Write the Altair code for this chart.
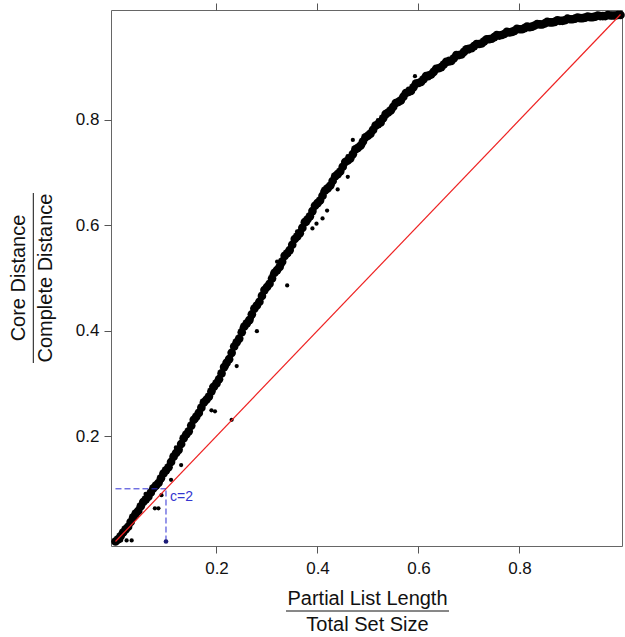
import altair as alt
import pandas as pd

FONT = "Liberation Sans"

# ---- data ----
band_x = [0.00, 0.01, 0.02, 0.03, 0.04, 0.05, 0.06, 0.07, 0.08, 0.09,
          0.10, 0.11, 0.12, 0.13, 0.14, 0.15, 0.16, 0.17, 0.18, 0.19,
          0.20, 0.21, 0.22, 0.23, 0.24, 0.25, 0.26, 0.27, 0.28, 0.29,
          0.30, 0.31, 0.32, 0.33, 0.34, 0.35, 0.36, 0.37, 0.38, 0.39,
          0.40, 0.41, 0.42, 0.43, 0.44, 0.45, 0.46, 0.47, 0.48, 0.49,
          0.50, 0.51, 0.52, 0.53, 0.54, 0.55, 0.56, 0.57, 0.58, 0.59,
          0.60, 0.61, 0.62, 0.63, 0.64, 0.65, 0.66, 0.67, 0.68, 0.69,
          0.70, 0.71, 0.72, 0.73, 0.74, 0.75, 0.76, 0.77, 0.78, 0.79,
          0.80, 0.81, 0.82, 0.83, 0.84, 0.85, 0.86, 0.87, 0.88, 0.89,
          0.90, 0.91, 0.92, 0.93, 0.94, 0.95, 0.96, 0.97, 0.98, 0.99,
          1.00]
band_y = [0.000, 0.010, 0.023, 0.037, 0.053, 0.067, 0.080, 0.093, 0.106, 0.120,
          0.135, 0.151, 0.168, 0.185, 0.203, 0.220, 0.237, 0.254, 0.269, 0.285,
          0.300, 0.319, 0.339, 0.358, 0.378, 0.397, 0.414, 0.431, 0.448, 0.466,
          0.483, 0.499, 0.515, 0.531, 0.547, 0.563, 0.579, 0.595, 0.611, 0.627,
          0.642, 0.656, 0.670, 0.684, 0.697, 0.711, 0.723, 0.735, 0.747, 0.759,
          0.770, 0.781, 0.792, 0.803, 0.814, 0.825, 0.834, 0.844, 0.853, 0.862,
          0.870, 0.877, 0.884, 0.891, 0.898, 0.905, 0.911, 0.917, 0.923, 0.929,
          0.935, 0.940, 0.944, 0.949, 0.953, 0.957, 0.960, 0.963, 0.966, 0.969,
          0.972, 0.974, 0.976, 0.979, 0.981, 0.983, 0.985, 0.986, 0.988, 0.989,
          0.991, 0.992, 0.993, 0.994, 0.995, 0.996, 0.997, 0.997, 0.998, 0.998,
          0.999]

fill_x = [0.005, 0.015, 0.025, 0.035, 0.045, 0.055, 0.065, 0.075, 0.085, 0.095,
          0.105, 0.115, 0.125, 0.135, 0.145, 0.155, 0.165, 0.175, 0.185, 0.195,
          0.205, 0.215, 0.225, 0.235, 0.245, 0.255, 0.265, 0.275, 0.285, 0.295,
          0.305, 0.315, 0.325, 0.335, 0.345, 0.355, 0.365, 0.375, 0.385, 0.395,
          0.405, 0.415, 0.425, 0.435, 0.445, 0.455, 0.465, 0.475, 0.485, 0.495,
          0.505, 0.515, 0.525, 0.535, 0.545, 0.555, 0.565, 0.575, 0.585, 0.595,
          0.605, 0.615, 0.625, 0.635, 0.645, 0.655, 0.665, 0.675, 0.685, 0.695,
          0.705, 0.715, 0.725, 0.735, 0.745, 0.755, 0.765, 0.775, 0.785, 0.795,
          0.805, 0.815, 0.825, 0.835, 0.845, 0.855, 0.865, 0.875, 0.885, 0.895,
          0.905, 0.915, 0.925, 0.935, 0.945, 0.955, 0.965, 0.975, 0.985, 0.995]
fill_y = [0.004, 0.017, 0.028, 0.046, 0.058, 0.075, 0.085, 0.101, 0.111, 0.129,
          0.141, 0.161, 0.174, 0.196, 0.209, 0.231, 0.244, 0.264, 0.275, 0.294,
          0.308, 0.331, 0.346, 0.370, 0.385, 0.408, 0.420, 0.442, 0.455, 0.477,
          0.489, 0.510, 0.521, 0.542, 0.553, 0.574, 0.585, 0.606, 0.617, 0.637,
          0.647, 0.666, 0.675, 0.693, 0.702, 0.720, 0.727, 0.744, 0.751, 0.767,
          0.774, 0.789, 0.795, 0.811, 0.818, 0.832, 0.837, 0.851, 0.855, 0.869,
          0.872, 0.883, 0.886, 0.897, 0.900, 0.910, 0.912, 0.923, 0.924, 0.934,
          0.936, 0.944, 0.945, 0.953, 0.954, 0.961, 0.961, 0.967, 0.967, 0.973,
          0.972, 0.977, 0.977, 0.982, 0.981, 0.986, 0.985, 0.989, 0.988, 0.992,
          0.991, 0.994, 0.993, 0.996, 0.995, 0.998, 0.997, 0.999, 0.998, 0.999]

# points sitting on the upper / lower edge of the thick band (roughness)
edge_x = [0.06, 0.09, 0.12, 0.16, 0.19, 0.22, 0.25, 0.27, 0.31, 0.33,
          0.36, 0.38, 0.41, 0.43, 0.46, 0.49, 0.52, 0.55, 0.58, 0.62,
          0.66, 0.70, 0.74, 0.79, 0.84, 0.89, 0.94]
edge_y = [0.090, 0.114, 0.178, 0.231, 0.294, 0.332, 0.405, 0.424, 0.507, 0.524,
          0.588, 0.604, 0.664, 0.677, 0.731, 0.752, 0.799, 0.819, 0.859, 0.879,
          0.916, 0.930, 0.957, 0.965, 0.985, 0.986, 0.997]

stray_x = [0.011, 0.022, 0.032, 0.078, 0.085, 0.091, 0.110, 0.130, 0.190, 0.197,
           0.230, 0.240, 0.280, 0.320, 0.340, 0.390, 0.398, 0.410, 0.419, 0.440,
           0.460, 0.470, 0.593]
stray_y = [0.002, 0.002, 0.002, 0.063, 0.063, 0.088, 0.117, 0.145, 0.249, 0.247,
           0.231, 0.333, 0.399, 0.531, 0.486, 0.594, 0.603, 0.613, 0.628, 0.668,
           0.692, 0.762, 0.883]

diag_x = [0.0, 1.0]
diag_y = [0.0, 1.0]

c_level = 0.1
c_label = "c=2"
c_label_x = 0.108
c_label_y = 0.077

x_ticks = [0.2, 0.4, 0.6, 0.8]
y_ticks = [0.2, 0.4, 0.6, 0.8]

x_num, x_den = "Partial List Length", "Total Set Size"
y_num, y_den = "Core Distance", "Complete Distance"

# ---- tables ----
band_df = pd.DataFrame({"x": band_x + fill_x, "y": band_y + fill_y})
edge_df = pd.DataFrame({"x": edge_x, "y": edge_y})
stray_df = pd.DataFrame({"x": stray_x, "y": stray_y})
diag_df = pd.DataFrame({"x": diag_x, "y": diag_y})
dash_df = pd.DataFrame({"x": [0.0, c_level], "x2": [c_level, c_level],
                        "y": [c_level, 0.0], "y2": [c_level, c_level]})
cpt_df = pd.DataFrame({"x": [c_level], "y": [0.0]})
clab_df = pd.DataFrame({"x": [c_label_x], "y": [c_label_y], "t": [c_label]})
one = pd.DataFrame({"a": [0]})

xs = alt.Scale(domain=[-0.0089, 1.003], nice=False, zero=False)
ys = alt.Scale(domain=[-0.0085, 1.0085], nice=False, zero=False)

y_axis = alt.Axis(values=y_ticks, format=".1f", title=None, grid=False, domain=False,
                  tickSize=7, tickColor="#555", labelPadding=5, labelFontSize=17,
                  labelFont=FONT, labelColor="#111")
x_bottom = alt.Axis(values=x_ticks, format=".1f", title=None, grid=False, domain=False,
                    tickSize=7, tickColor="#555", labelPadding=7, labelFontSize=17,
                    labelFont=FONT, labelColor="#111", orient="bottom")
x_top = alt.Axis(values=x_ticks, labels=False, title=None, grid=False, domain=False,
                 tickSize=7, tickColor="#555", orient="top")

band = alt.Chart(band_df).mark_circle(size=75, color="black", opacity=1).encode(
    x=alt.X("x:Q", scale=xs, axis=x_bottom),
    y=alt.Y("y:Q", scale=ys, axis=y_axis))
edge = alt.Chart(edge_df).mark_circle(size=22, color="black", opacity=1).encode(
    x=alt.X("x:Q", scale=xs, axis=None),
    y=alt.Y("y:Q", scale=ys, axis=y_axis))
stray = alt.Chart(stray_df).mark_circle(size=18, color="black", opacity=1).encode(
    x=alt.X("x:Q", scale=xs, axis=None),
    y=alt.Y("y:Q", scale=ys, axis=y_axis))
diag = alt.Chart(diag_df).mark_line(color="#ee2222", strokeWidth=1.2).encode(
    x=alt.X("x:Q", scale=xs, axis=x_top),
    y=alt.Y("y:Q", scale=ys, axis=y_axis))
dash = alt.Chart(dash_df).mark_rule(color="#2f2fd4", strokeWidth=1, strokeDash=[6, 3]).encode(
    x=alt.X("x:Q", scale=xs, axis=None), x2="x2:Q",
    y=alt.Y("y:Q", scale=ys, axis=y_axis), y2="y2:Q")
cpt = alt.Chart(cpt_df).mark_circle(size=22, color="#1c1c78", opacity=1).encode(
    x=alt.X("x:Q", scale=xs, axis=None),
    y=alt.Y("y:Q", scale=ys, axis=y_axis))
clab = alt.Chart(clab_df).mark_text(align="left", baseline="alphabetic", fontSize=14,
                                     font=FONT, color="#3535d0").encode(
    x=alt.X("x:Q", scale=xs, axis=None),
    y=alt.Y("y:Q", scale=ys, axis=y_axis),
    text="t:N")


def label(txt, x, y, angle=0):
    kw = dict(align="center", baseline="alphabetic", fontSize=20, font=FONT,
              color="#111", text=txt)
    if angle:
        kw["angle"] = angle
    return alt.Chart(one).mark_text(**kw).encode(x=alt.value(x), y=alt.value(y))


xt1 = label(x_num, 256.5, 595)
xt2 = label(x_den, 256.5, 621)
xbar = alt.Chart(one).mark_rule(color="#111", strokeWidth=1).encode(
    x=alt.value(175), x2=alt.value(338), y=alt.value(601))
yt1 = label(y_num, -86, 268, 270)
yt2 = label(y_den, -59.5, 268, 270)
ybar = alt.Chart(one).mark_rule(color="#111", strokeWidth=1).encode(
    x=alt.value(-77.7), y=alt.value(183), y2=alt.value(353))

chart = alt.layer(band, edge, stray, diag, dash, cpt, clab,
                  xt1, xt2, xbar, yt1, yt2, ybar).resolve_axis(
    x="independent"
).properties(
    width=511, height=536,
    autosize=alt.AutoSizeParams(type="none"),
    padding={"left": 111, "top": 10, "right": 3, "bottom": 91},
).configure_view(stroke="#666", strokeWidth=1)

chart.save("out.html", embed_options={"renderer": "svg", "actions": False})
